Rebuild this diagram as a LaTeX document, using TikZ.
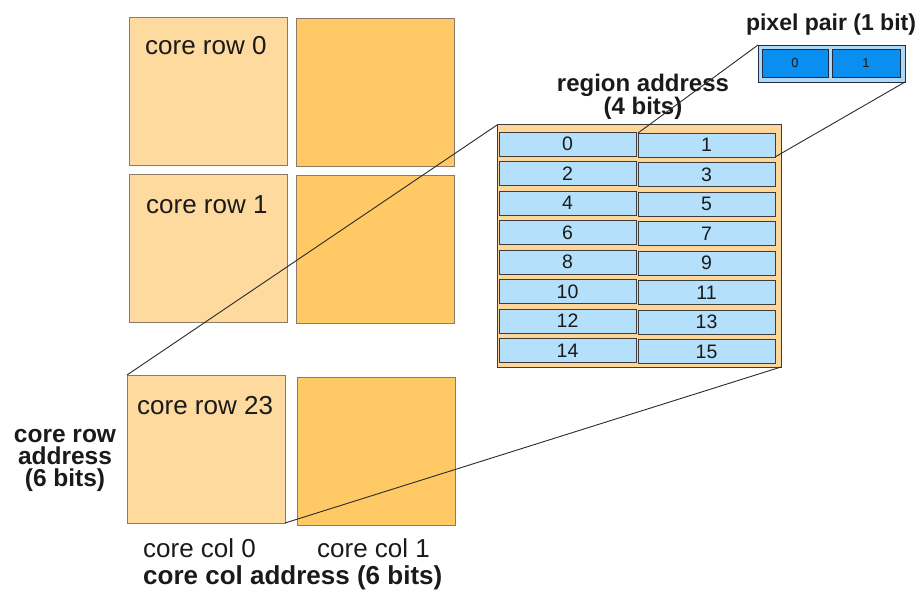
\documentclass[tikz,border=0pt]{standalone}
\usepackage{fontspec}
\setmainfont{Liberation Sans}
\definecolor{colA}{HTML}{FFDA9E}
\definecolor{colB}{HTML}{FFC965}
\definecolor{sqborder}{HTML}{8C7A66}
\definecolor{regfill}{HTML}{FFD699}
\definecolor{cellfill}{HTML}{B4E0FB}
\definecolor{cellborder}{HTML}{3C3C3C}
\definecolor{pixfill}{HTML}{0A8EF0}
\definecolor{pixouter}{HTML}{B0D8F5}
\definecolor{pixborder}{HTML}{1E2C44}
\definecolor{txt}{HTML}{1A1A1A}
\definecolor{linec}{HTML}{2A2A2A}
\begin{document}
\begin{tikzpicture}[x=1pt,y=-1pt,
  box/.style={anchor=north west, inner sep=0pt, outer sep=0pt},
  sqA/.style={box, draw=sqborder, line width=0.8pt, fill=colA, minimum width=158pt, minimum height=148pt},
  sqB/.style={box, draw=sqborder, line width=0.8pt, fill=colB, minimum width=158pt, minimum height=148pt},
  regbox/.style={box, draw=cellborder, line width=1pt, fill=regfill},
  cell/.style={box, draw=cellborder, line width=0.9pt, fill=cellfill, minimum width=137pt, minimum height=24pt, font=\fontsize{19.5}{19.5}\selectfont, text=txt},
  pixcell/.style={box, draw=pixborder, line width=0.9pt, fill=pixfill, minimum height=28pt, font=\fontsize{13}{13}\selectfont, text=txt},
  lbl/.style={inner sep=0pt, anchor=base west, text=txt, font=\fontsize{26}{26}\selectfont},
  blbl/.style={inner sep=0pt, anchor=base, text=txt, align=center, font=\bfseries\fontsize{24}{18}\selectfont},
  conn/.style={draw=linec, line width=0.9pt}
]
\useasboundingbox (0,0) rectangle (923,599);

% core squares
\node[sqA] (r0a) at (129,17) {};
\node[sqB] (r0b) at (296,18) {};
\node[sqA] (r1a) at (129,174) {};
\node[sqB] (r1b) at (296,175) {};
\node[sqA] (r23a) at (127,375) {};
\node[sqB] (r23b) at (297,377) {};

\node[lbl] (t0) at (145,55) {core row 0};
\node[lbl] (t1) at (146,213) {core row 1};
\node[lbl] (t23) at (137,414) {core row 23};
\node[lbl] (tc0) at (143,557) {core col 0};
\node[lbl] (tc1) at (317,557) {core col 1};
\node[inner sep=0pt, anchor=base west, text=txt, font=\bfseries\fontsize{26}{26}\selectfont] (tca) at (143,584) {core col address (6 bits)};
\node[inner sep=0pt, anchor=base, text=txt, align=center, font=\bfseries\fontsize{24.5}{22}\selectfont] (tra) at (65,486) {core row\\address\\(6 bits)};

% region
\node[regbox, minimum width=284pt, minimum height=242pt] (reg) at (497,125) {};
\foreach \r in {0,...,7}{
  \pgfmathtruncatemacro{\a}{2*\r}
  \pgfmathtruncatemacro{\b}{2*\r+1}
  \pgfmathsetmacro{\yy}{132+29.5*\r}
  \node[cell] (c\a) at (499,\yy) {\a};
  \node[cell] (c\b) at (638,\yy+1) {\b};
}
\node[blbl] (treg) at (643,115) {region address\\(4 bits)};

% pixel pair
\node[box, draw=pixborder, line width=0.9pt, fill=pixouter, minimum width=147pt, minimum height=37pt] (pp) at (758,45) {};
\node[pixcell, minimum width=66pt] (p0) at (762,49) {0};
\node[pixcell, minimum width=68pt] (p1) at (832,49) {1};
\node[inner sep=0pt, anchor=base, text=txt, font=\bfseries\fontsize{23}{23}\selectfont] (tpp) at (831,31) {pixel pair (1 bit)};

% connectors
\draw[conn] (pp.north west) -- (c1.north west);
\draw[conn] (pp.south east) -- (c1.south east);
\draw[conn] (reg.north west) -- (r23a.north west);
\draw[conn] (reg.south east) -- (r23a.south east);
\end{tikzpicture}
\end{document}
